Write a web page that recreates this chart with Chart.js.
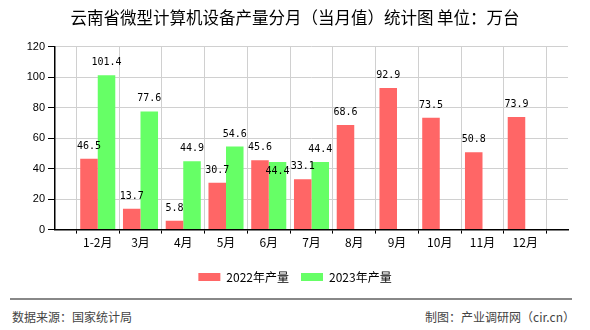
<!DOCTYPE html>
<html>
<head>
<meta charset="utf-8">
<script src="https://cdn.jsdelivr.net/npm/chart.js@4/dist/chart.umd.min.js"></script>
<style>
  body { margin: 0; background: #fff; }
  #wrap { position: relative; width: 590px; height: 330px; overflow: hidden; }
  #chart { position: absolute; left: 0; top: 0; }
  #rule { position: absolute; left: 10px; top: 298px; width: 562px; height: 0; border-top: 2px solid #888; }
  .foot { position: absolute; top: 309px; font: 12px 'Noto Sans CJK SC', sans-serif; color: #444; line-height: 16px; }
  #src { left: 12px; }
  #by { right: 15px; }
</style>
</head>
<body>
<div id="wrap">
  <canvas id="chart" width="590" height="297"></canvas>
  <div id="rule"></div>
  <div class="foot" id="src">数据来源：国家统计局</div>
  <div class="foot" id="by">制图：产业调研网（cir.cn）</div>
</div>
<script>
const titleText = '云南省微型计算机设备产量分月（当月值）统计图 单位：万台';
// empty slots at both ends so the month ticks sit between the axis edges
const months = ['', '1-2月', '3月', '4月', '5月', '6月', '7月', '8月', '9月', '10月', '11月', '12月', ''];
const output2022 = [null, 46.5, 13.7, 5.8, 30.7, 45.6, 33.1, 68.6, 92.9, 73.5, 50.8, 73.9, null];
const output2023 = [null, 101.4, 77.6, 44.9, 54.6, 44.4, 44.4, null, null, null, null, null, null];
const yTicks = [0, 20, 40, 60, 80, 100, 120];

Chart.defaults.font.family = "'Liberation Sans', 'Noto Sans CJK SC', sans-serif";
Chart.defaults.color = '#000';

// value labels over the bars; a label that would hit an earlier one goes inside the bar
const valueLabels = {
  id: 'valueLabels',
  afterDatasetsDraw(chart) {
    const ctx = chart.ctx;
    const placed = [];
    ctx.save();
    ctx.font = "10px 'DejaVu Sans Mono', monospace";
    ctx.fillStyle = '#000';
    ctx.textAlign = 'center';
    ctx.textBaseline = 'middle';
    chart.data.datasets.forEach((ds, di) => {
      chart.getDatasetMeta(di).data.forEach((bar, i) => {
        const v = ds.data[i];
        if (v == null) return;
        const txt = v.toFixed(1);
        const w = ctx.measureText(txt).width;
        let y = bar.y - 12.5;
        const hit = placed.some(r => Math.abs(r.x - bar.x) < (r.w + w) / 2 && Math.abs(r.y - y) < 11);
        if (hit) y = bar.y + 9.5;
        placed.push({ x: bar.x, y, w });
        ctx.fillText(txt, bar.x, y);
      });
    });
    ctx.restore();
  }
};

new Chart(document.getElementById('chart'), {
  type: 'bar',
  data: {
    labels: months,
    datasets: [
      { label: '2022年产量', data: output2022, backgroundColor: '#ff6666' },
      { label: '2023年产量', data: output2023, backgroundColor: '#66ff66' }
    ]
  },
  options: {
    responsive: false,
    animation: false,
    events: [],
    layout: { padding: { left: 0, right: 0, top: 0, bottom: 4 } },
    datasets: { bar: { categoryPercentage: 0.82, barPercentage: 1 } },
    plugins: {
      title: {
        display: true,
        text: titleText,
        font: { size: 16.5, weight: 'normal', family: "'Noto Sans CJK SC', sans-serif" },
        color: '#000',
        padding: { top: 8, bottom: 19 }
      },
      legend: {
        position: 'bottom',
        labels: {
          boxWidth: 22,
          boxHeight: 8,
          padding: 12,
          font: { size: 12, family: "'Noto Sans CJK SC', sans-serif" }
        }
      },
      tooltip: { enabled: false }
    },
    scales: {
      x: {
        offset: false,
        afterFit(scale) { scale.height += 7; },
        grid: { color: '#d0d0d0', tickColor: '#000', tickLength: 4 },
        border: { color: '#000', width: 1.5 },
        ticks: { padding: 2, autoSkip: false, maxRotation: 0, font: { size: 12, family: "'Noto Sans CJK SC', sans-serif" } }
      },
      y: {
        min: 0,
        max: 120,
        afterFit(scale) { scale.width = 55; },
        afterBuildTicks(scale) { scale.ticks = yTicks.map(v => ({ value: v })); },
        grid: { color: '#d0d0d0', tickColor: '#000', tickLength: 7 },
        border: { color: '#000', width: 1.5 },
        ticks: { padding: 3, font: { size: 11 } }
      },
      // empty right-hand margin so the title and legend stay centred on the page
      yRight: {
        position: 'right',
        afterFit(scale) { scale.width = 22; },
        grid: { display: false },
        border: { display: false },
        ticks: { display: false }
      }
    }
  },
  plugins: [valueLabels]
});
</script>
</body>
</html>
